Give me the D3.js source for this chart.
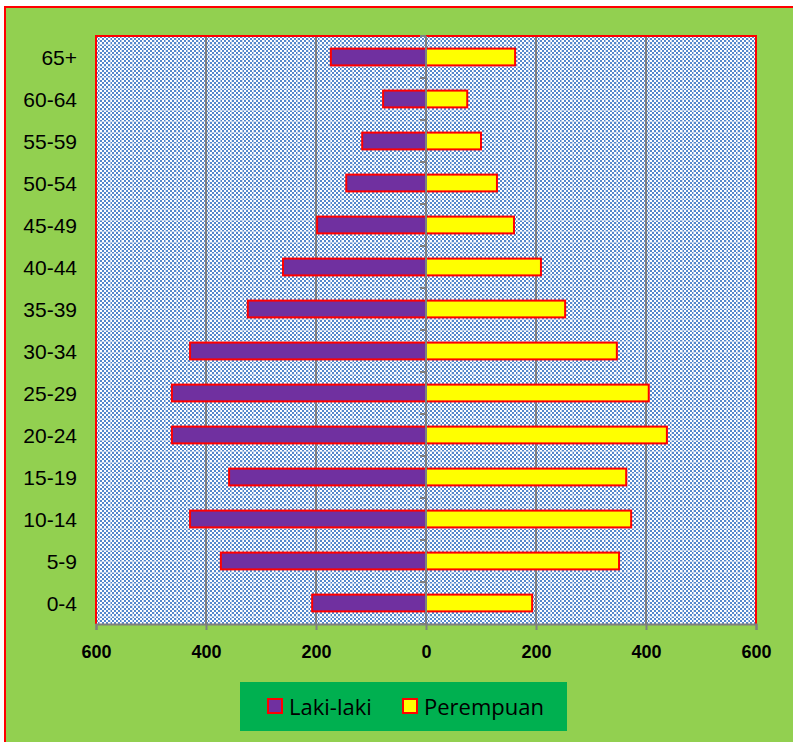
<!DOCTYPE html>
<html>
<head>
<meta charset="utf-8">
<script src="https://cdn.jsdelivr.net/npm/d3@7"></script>
<style>
  html, body { margin: 0; padding: 0; background: #fff; }
  svg { display: block; }
</style>
</head>
<body>
<svg id="chart" width="793" height="742"></svg>
<script>
const categories = ["0-4","5-9","10-14","15-19","20-24","25-29","30-34","35-39","40-44","45-49","50-54","55-59","60-64","65+"];
const maleValues   = [207, 373, 429, 358, 462, 462, 429, 324, 260, 198, 145, 116, 78, 173];
const femaleValues = [193, 351, 373, 364, 438, 405, 347, 253, 209, 160, 129, 100, 75, 162];
const seriesNames = ["Laki-laki", "Perempuan"];
const tickValues = [-600, -400, -200, 0, 200, 400, 600];

const svg = d3.select("#chart");
const W = 793, H = 742;
const plot = { left: 96, right: 756, top: 36, bottom: 624 };

// outer chart frame
svg.append("rect").attr("x", 5).attr("y", 7).attr("width", W + 20).attr("height", H + 20)
  .attr("fill", "#92d050").attr("stroke", "#ff0000").attr("stroke-width", 2);

// pattern
const defs = svg.append("defs");
const pat = defs.append("pattern").attr("id", "chk").attr("patternUnits", "userSpaceOnUse")
  .attr("width", 4).attr("height", 4);
pat.append("rect").attr("width", 4).attr("height", 4).attr("fill", "#ffffff");
pat.append("rect").attr("x", 0).attr("y", 0).attr("width", 2).attr("height", 2).attr("fill", "#5588cc");
pat.append("rect").attr("x", 2).attr("y", 2).attr("width", 2).attr("height", 2).attr("fill", "#5588cc");
const pat2 = defs.append("pattern").attr("id", "lines").attr("patternUnits", "userSpaceOnUse")
  .attr("width", 11).attr("height", 11);
pat2.append("rect").attr("x", 0).attr("y", 0).attr("width", 1).attr("height", 11).attr("fill", "#c8d8ee").attr("opacity", 0.7);
pat2.append("rect").attr("x", 0).attr("y", 0).attr("width", 11).attr("height", 1).attr("fill", "#c8d8ee").attr("opacity", 0.7);

const x = d3.scaleLinear().domain([-600, 600]).range([plot.left, plot.right]);
const y = d3.scaleBand().domain(categories.slice().reverse())
  .range([plot.top, plot.bottom]).paddingInner(0.6).paddingOuter(0.3);

// plot area background
svg.append("rect").attr("x", plot.left).attr("y", plot.top)
  .attr("width", plot.right - plot.left).attr("height", plot.bottom - plot.top)
  .attr("fill", "url(#chk)");
svg.append("rect").attr("x", plot.left).attr("y", plot.top)
  .attr("width", plot.right - plot.left).attr("height", plot.bottom - plot.top)
  .attr("fill", "url(#lines)");

// gridlines
svg.append("g").selectAll("line").data(tickValues.filter(t => t !== 0 && Math.abs(t) !== 600))
  .join("line")
  .attr("x1", d => x(d)).attr("x2", d => x(d))
  .attr("y1", plot.top).attr("y2", plot.bottom)
  .attr("stroke", "#7f7f7f").attr("stroke-width", 2);

// plot border (top, left, right red)
svg.append("path")
  .attr("d", `M${plot.left},${plot.bottom} V${plot.top} H${plot.right} V${plot.bottom}`)
  .attr("fill", "none").attr("stroke", "#ff0000").attr("stroke-width", 2);

// bars
const data = categories.map((c, i) => ({ c, m: maleValues[i], f: femaleValues[i] }));
svg.append("g").selectAll("rect").data(data).join("rect")
  .attr("x", d => x(-d.m)).attr("y", d => y(d.c))
  .attr("width", d => x(0) - x(-d.m)).attr("height", y.bandwidth())
  .attr("fill", "#7030a0").attr("stroke", "#ff0000").attr("stroke-width", 2);
svg.append("g").selectAll("rect").data(data).join("rect")
  .attr("x", x(0)).attr("y", d => y(d.c))
  .attr("width", d => x(d.f) - x(0)).attr("height", y.bandwidth())
  .attr("fill", "#ffff00").attr("stroke", "#ff0000").attr("stroke-width", 2);

// vertical zero axis with ticks at category boundaries
const zeroAxis = svg.append("g").attr("transform", `translate(${x(0)},0)`);
zeroAxis.append("line").attr("y1", plot.top).attr("y2", plot.bottom)
  .attr("stroke", "#7f7f7f").attr("stroke-width", 2);
const bounds = d3.range(categories.length + 1).map(i => plot.top + i * y.step());
zeroAxis.selectAll("line.tk").data(bounds).join("line").attr("class", "tk")
  .attr("x1", -6).attr("x2", 0).attr("y1", d => d).attr("y2", d => d)
  .attr("stroke", "#7f7f7f").attr("stroke-width", 2);

// bottom axis
const xAxis = d3.axisBottom(x).tickValues(tickValues).tickSize(6).tickPadding(15)
  .tickFormat(d => Math.abs(d));
const gx = svg.append("g").attr("transform", `translate(0,${plot.bottom})`).call(xAxis);
gx.select(".domain").attr("stroke", "#7f7f7f").attr("stroke-width", 2);
gx.selectAll(".tick line").attr("stroke", "#7f7f7f").attr("stroke-width", 2);
gx.selectAll(".tick text").attr("fill", "#000")
  .style("font-family", "'Liberation Sans', Arial, sans-serif")
  .style("font-size", "18px").style("font-weight", "bold");

// category labels
svg.append("g").selectAll("text").data(categories).join("text")
  .attr("x", 77).attr("y", d => y(d) + y.bandwidth() / 2)
  .attr("text-anchor", "end").attr("dominant-baseline", "central")
  .style("font-family", "'Liberation Sans', Arial, sans-serif")
  .style("font-size", "21px").attr("fill", "#000")
  .text(d => d);

// legend
const lg = svg.append("g");
lg.append("rect").attr("x", 240).attr("y", 682).attr("width", 327).attr("height", 49).attr("fill", "#00b050");
const legendItems = [
  { name: seriesNames[0], color: "#7030a0", sx: 268, tx: 289 },
  { name: seriesNames[1], color: "#ffff00", sx: 403, tx: 424 }
];
legendItems.forEach(it => {
  lg.append("rect").attr("x", it.sx).attr("y", 699).attr("width", 14).attr("height", 14)
    .attr("fill", it.color).attr("stroke", "#ff0000").attr("stroke-width", 2);
  lg.append("text").attr("x", it.tx).attr("y", 706).attr("dominant-baseline", "central")
    .style("font-family", "'Open Sans', 'Noto Sans', sans-serif").style("font-size", "22px")
    .attr("fill", "#000").text(it.name);
});
</script>
</body>
</html>
